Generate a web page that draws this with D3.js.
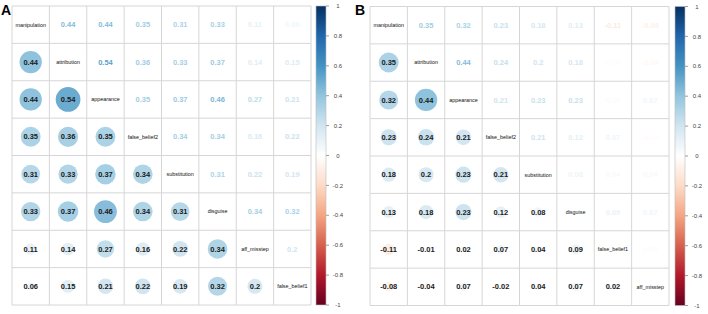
<!DOCTYPE html>
<html><head><meta charset="utf-8">
<script src="https://cdn.jsdelivr.net/npm/d3@7"></script>
<style>body{margin:0;background:#fff}svg{display:block}text{font-family:"Liberation Sans",Arial,sans-serif}</style>
</head><body><svg id="c" width="708" height="314"></svg>
<script>
const varsA = ["manipulation","attribution","appearance","false_belief2","substitution","disguise","aff_misstep","false_belief1"];
const varsB = ["manipulation","attribution","appearance","false_belief2","substitution","disguise","false_belief1","aff_misstep"];
// lower triangle rows (row i has i values)
const lowerA = [
  [],
  [0.44],
  [0.44,0.54],
  [0.35,0.36,0.35],
  [0.31,0.33,0.37,0.34],
  [0.33,0.37,0.46,0.34,0.31],
  [0.11,0.14,0.27,0.16,0.22,0.34],
  [0.06,0.15,0.21,0.22,0.19,0.32,0.2]
];
const lowerB = [
  [],
  [0.35],
  [0.32,0.44],
  [0.23,0.24,0.21],
  [0.18,0.2,0.23,0.21],
  [0.13,0.18,0.23,0.12,0.08],
  [-0.11,-0.01,0.02,0.07,0.04,0.09],
  [-0.08,-0.04,0.07,-0.02,0.04,0.07,0.02]
];
const barTicks = [1,0.8,0.6,0.4,0.2,0,-0.2,-0.4,-0.6,-0.8,-1];
const rampColors = ["#67001F","#B2182B","#D6604D","#F4A582","#FDDBC7","#FFFFFF","#D1E5F0","#92C5DE","#4393C3","#2166AC","#053061"];

const svg = d3.select("#c");
const color = d3.scaleLinear().domain(d3.range(11).map(i=>-1+i*0.2)).range(rampColors).interpolate(d3.interpolateRgb);

// gradient
const defs = svg.append("defs");
const grad = defs.append("linearGradient").attr("id","g").attr("x1",0).attr("y1",1).attr("x2",0).attr("y2",0);
rampColors.forEach((c,i)=>grad.append("stop").attr("offset",(i/10)).attr("stop-color",c));

function fmt(v){ return String(+v.toFixed(2)); }

function panel(opt){
  const {letter, vars, lower, gx, gy, gw, bx, bw, lx} = opt;
  const n = vars.length;
  const band = d3.scaleBand().domain(d3.range(n)).range([0,gw]);
  const yb = d3.scaleBand().domain(d3.range(n)).range([0,gw*(299/299)]);
  const cell = band.bandwidth();
  const g = svg.append("g").attr("transform",`translate(${gx},${gy})`);
  const val = (i,j)=> i===j?1:(i>j?lower[i][j]:lower[j][i]);
  const cells = [];
  for(let i=0;i<n;i++) for(let j=0;j<n;j++) cells.push({i,j,v:val(i,j)});
  // grid
  for(let k=0;k<=n;k++){
    g.append("line").attr("x1",k*cell).attr("x2",k*cell).attr("y1",0).attr("y2",n*cell).attr("stroke","#d6d6d6").attr("stroke-width",1);
    g.append("line").attr("y1",k*cell).attr("y2",k*cell).attr("x1",0).attr("x2",n*cell).attr("stroke","#d6d6d6").attr("stroke-width",1);
  }
  const rScale = d3.scaleSqrt().domain([0,1]).range([0,cell*0.45]);
  // circles lower
  g.selectAll("circle").data(cells.filter(d=>d.i>d.j)).join("circle")
    .attr("cx",d=>band(d.j)+cell/2).attr("cy",d=>band(d.i)+cell/2)
    .attr("r",d=>rScale(Math.abs(d.v))).attr("fill",d=>color(d.v)).attr("fill-opacity",0.9);
  // numbers lower
  g.selectAll("text.lo").data(cells.filter(d=>d.i>d.j)).join("text").attr("class","lo")
    .attr("x",d=>band(d.j)+cell/2).attr("y",d=>band(d.i)+cell/2).attr("dy","0.35em")
    .attr("text-anchor","middle").attr("font-size",7.5).attr("font-weight","bold").attr("fill","#1a1a1a")
    .text(d=>fmt(d.v));
  // numbers upper
  g.selectAll("text.up").data(cells.filter(d=>d.i<d.j)).join("text").attr("class","up")
    .attr("x",d=>band(d.j)+cell/2).attr("y",d=>band(d.i)+cell/2).attr("dy","0.35em")
    .attr("text-anchor","middle").attr("font-size",7.5).attr("font-weight","bold").attr("fill",d=>color(d.v))
    .text(d=>fmt(d.v));
  // diagonal labels
  g.selectAll("text.dg").data(cells.filter(d=>d.i===d.j)).join("text").attr("class","dg")
    .attr("x",d=>band(d.j)+cell/2).attr("y",d=>band(d.i)+cell/2).attr("dy","0.35em")
    .attr("text-anchor","middle").attr("font-size",5.4).attr("fill","#111")
    .text(d=>vars[d.i]);
  // colorbar
  const by = d3.scaleLinear().domain([1,-1]).range([gy, gy+n*cell]);
  svg.append("rect").attr("x",bx).attr("y",by(1)).attr("width",bw).attr("height",by(-1)-by(1))
    .attr("fill","url(#g)").attr("stroke","#bbb").attr("stroke-width",0.6);
  const tg = svg.append("g").attr("transform",`translate(${bx+bw},0)`);
  tg.selectAll("line").data(barTicks).join("line").attr("x1",0).attr("x2",3)
    .attr("y1",d=>by(d)).attr("y2",d=>by(d)).attr("stroke","#777").attr("stroke-width",0.7);
  tg.selectAll("text").data(barTicks).join("text").attr("x",12).attr("y",d=>by(d)).attr("dy","0.35em")
    .attr("text-anchor","middle").attr("font-size",6).attr("fill","#444").text(d=>String(d));
  // letter
  svg.append("text").attr("x",lx).attr("y",15).attr("font-size",14).attr("font-weight","bold").attr("fill","#000").text(letter);
}

panel({letter:"A", vars:varsA, lower:lowerA, gx:12, gy:6, gw:299, bx:316, bw:10, lx:1});
panel({letter:"B", vars:varsB, lower:lowerB, gx:370, gy:6.5, gw:299, bx:675, bw:10, lx:355});
</script></body></html>
